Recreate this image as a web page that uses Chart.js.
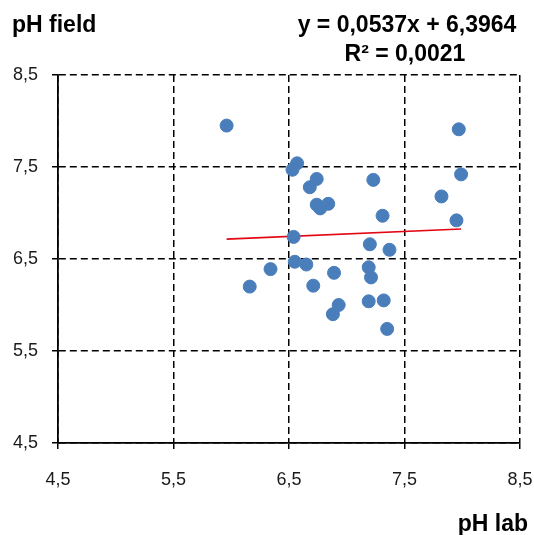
<!DOCTYPE html>
<html>
<head>
<meta charset="utf-8">
<script src="https://cdn.jsdelivr.net/npm/chart.js@4"></script>
<style>
  html, body { margin: 0; padding: 0; background: #fff; }
  canvas { display: block; }
</style>
</head>
<body>
<canvas id="myChart" width="534" height="535"></canvas>
<script>
// データ
const phLab = [
  5.96, 6.57, 6.53, 6.74, 6.68, 7.23, 6.74, 6.77, 6.84, 7.31,
  6.54, 7.20, 7.37, 6.34, 6.55, 6.65, 6.16, 6.89, 7.19, 7.21,
  6.71, 6.93, 6.88, 7.19, 7.32, 7.35, 7.97, 7.99, 7.82, 7.95,
];
const phField = [
  7.95, 7.54, 7.47, 7.37, 7.28, 7.36, 7.09, 7.05, 7.10, 6.97,
  6.74, 6.66, 6.60, 6.39, 6.47, 6.44, 6.20, 6.35, 6.41, 6.30,
  6.21, 6.00, 5.90, 6.04, 6.05, 5.74, 7.91, 7.42, 7.18, 6.92,
];
const axisTicks = [4.5, 5.5, 6.5, 7.5, 8.5];
const slope = 0.0537;
const intercept = 6.3964;
const equationText = ["y = 0,0537x + 6,3964", "R² = 0,0021"];

const points = phLab.map((x, i) => ({ x: x, y: phField[i] }));
const xMin = Math.min(...phLab);
const xMax = Math.max(...phLab);
const trend = [
  { x: xMin, y: slope * xMin + intercept },
  { x: xMax, y: slope * xMax + intercept },
];

const fmt = (v) => String(v).replace(".", ",");

// 軸の共通設定
function axis(pos) {
  return {
    type: "linear",
    position: pos,
    min: 4.5,
    max: 8.5,
    afterBuildTicks: (scale) => {
      scale.ticks = axisTicks.map((v) => ({ value: v }));
    },
    ticks: {
      callback: (value) => fmt(value),
      color: "#1a1a1a",
      font: { family: "Liberation Sans", size: 18 },
      padding: pos === "left" ? 14 : 20,
      maxRotation: 0,
    },
    grid: {
      color: "#000",
      lineWidth: 1.5,
      tickLength: 6,
      tickColor: "#000",
      tickBorderDash: [],
      tickWidth: 1.5,
    },
    border: { display: true, color: "#000", width: 1.8, dash: [7, 4] },
    afterFit: (scale) => {
      if (pos === "left") {
        scale.width = 58;
      } else {
        scale.height = 535 - 443;
        scale.paddingLeft = 0;
        scale.paddingRight = 0;
      }
    },
  };
}

// 文字を描くプラグイン
const labelsPlugin = {
  id: "labels",
  afterDraw(chart) {
    const c = chart.ctx;
    c.save();
    c.fillStyle = "#000";
    c.font = "bold 23px 'Liberation Sans'";
    c.textBaseline = "alphabetic";
    c.textAlign = "left";
    c.fillText("pH field", 12, 32);
    c.textAlign = "center";
    c.fillText(equationText[0], 407, 32);
    c.fillText(equationText[1], 405, 61);
    c.textAlign = "right";
    c.fillText("pH lab", 528, 531);
    c.restore();
  },
};

const ctx = document.getElementById("myChart").getContext("2d");
const myChart = new Chart(ctx, {
  type: "scatter",
  data: {
    datasets: [
      {
        label: "pH",
        data: points,
        backgroundColor: "#4a7ebb",
        borderColor: "#4a7ebb",
        pointRadius: 6.5,
        pointHoverRadius: 6.5,
        order: 1,
      },
      {
        type: "line",
        label: "trend",
        data: trend,
        borderColor: "#e30613",
        borderWidth: 1.6,
        pointRadius: 0,
        fill: false,
        order: 2,
      },
    ],
  },
  options: {
    responsive: false,
    animation: false,
    layout: { padding: { top: 75, right: 14, left: 0, bottom: 0 } },
    plugins: {
      legend: { display: false },
      tooltip: { enabled: false },
    },
    scales: {
      x: axis("bottom"),
      y: axis("left"),
    },
  },
  plugins: [labelsPlugin],
});
</script>
</body>
</html>
